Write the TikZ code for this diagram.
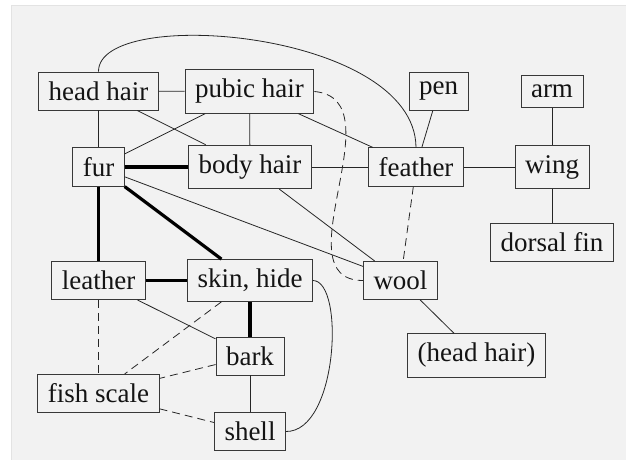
\documentclass[tikz,border=0pt]{standalone}
\usepackage{fontspec}
\setmainfont{Liberation Serif}
\begin{document}
\begin{tikzpicture}[x=1pt,y=-1pt,
  box/.style={draw=black!78, line width=0.9pt, inner xsep=10pt, inner ysep=9.5pt,
    text=black!92, font=\fontsize{27}{32}\selectfont},
  lnk/.style={draw=black!85, line width=0.8pt},
  thk/.style={draw=black, line width=3.2pt},
  dsh/.style={draw=black!85, line width=0.8pt, dash pattern=on 8pt off 5pt}]
\useasboundingbox (0,0) rectangle (626,460);
\fill[white] (0,0) rectangle (626,460);
\draw[draw=black!11, fill=black!5, line width=1pt] (11,6) rectangle (628,462);
% nodes
\node[box] (hh)   at (98.5,91)    {head hair};
\node[box] (ph)   at (249.5,91.5) {pubic hair};
\node[box] (fur)  at (98.5,167)   {fur};
\node[box] (bh)   at (250,167)    {body hair};
\node[box] (fe)   at (416,167)    {feather};
\node[box] (pen)  at (438.5,91.5) {pen};
\node[box] (arm)  at (552,91.5)   {arm};
\node[box] (wing) at (552,167)    {wing};
\node[box] (df)   at (552,242.5)  {dorsal fin};
\node[box] (le)   at (98.5,280.5) {leather};
\node[box] (sk)   at (250,280.5)  {skin, hide};
\node[box] (bark) at (250,356)    {bark};
\node[box] (fs)   at (98.5,393.5) {fish scale};
\node[box] (sh)   at (250,431.5)  {shell};
\node[box] (wool) at (400.5,280.5){wool};
\node[box] (hh2)  at (476.5,355.5){(head hair)};
% thin links
\draw[lnk] (hh) -- (ph);
\draw[lnk] (hh) -- (fur);
\draw[lnk] (hh) -- (bh);
\draw[lnk] (hh.north) .. controls (98,5) and (415,30) .. (fe.north);
\draw[lnk] (ph) -- (fur);
\draw[lnk] (ph) -- (bh);
\draw[lnk] (ph) -- (fe);
\draw[lnk] (fur) -- (wool);
\draw[lnk] (bh) -- (fe);
\draw[lnk] (bh) -- (wool);
\draw[lnk] (fe) -- (pen);
\draw[lnk] (fe) -- (wing);
\draw[lnk] (arm) -- (wing);
\draw[lnk] (wing) -- (df);
\draw[lnk] (le) -- (bark);
\draw[lnk] (bark) -- (sh);
\draw[lnk] (sk.east) .. controls (345,281) and (338,432) .. (sh.east);
\draw[lnk] (wool) -- (hh2);
% thick links
\draw[thk] (fur) -- (bh);
\draw[thk] (fur) -- (le);
\draw[thk] (fur) -- (sk);
\draw[thk] (le) -- (sk);
\draw[thk] (sk) -- (bark);
% dashed links
\draw[dsh] (ph.east) to[out=-5,in=180,looseness=1.1] (wool.west);
\draw[dsh] (fe) -- (wool);
\draw[dsh] (le) -- (fs);
\draw[dsh] (sk) -- (fs);
\draw[dsh] (bark) -- (fs);
\draw[dsh] (fs) -- (sh);
\end{tikzpicture}
\end{document}
